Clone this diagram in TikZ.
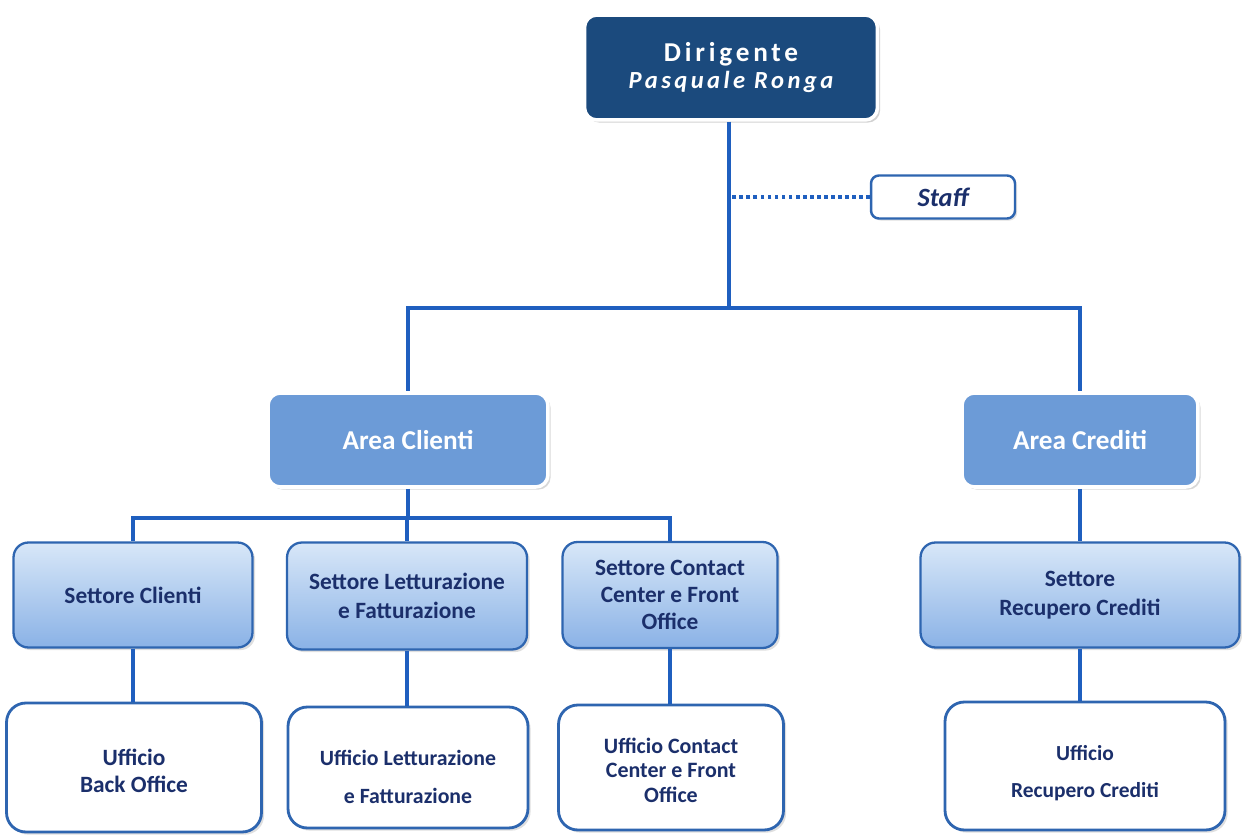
\documentclass[tikz,border=0pt]{standalone}
\usepackage{fontspec}
\setmainfont{Carlito}
\newfontfamily\spacedfont[LetterSpace=14]{Carlito}
\usetikzlibrary{shadows}

\definecolor{navy}{HTML}{1B4A7D}
\definecolor{areablue}{HTML}{6C9BD7}
\definecolor{linkblue}{HTML}{1F5FBF}
\definecolor{edgeblue}{HTML}{2E65B0}
\definecolor{inkblue}{HTML}{1B2F6B}
\definecolor{settop}{HTML}{D8E7F8}
\definecolor{setbot}{HTML}{8AB2E6}

\tikzset{
  basebox/.style={align=center, inner sep=2pt,
    font=\fontsize{13.3}{15.2}\selectfont\bfseries},
  headbox/.style={basebox, fill=navy, draw=white, line width=2pt, text=white,
    rounded corners=7pt,
    drop shadow={opacity=0.35, shadow xshift=1.5pt, shadow yshift=-1.5pt}},
  areabox/.style={basebox, fill=areablue, draw=white, line width=2pt, text=white,
    rounded corners=7pt, font=\fontsize{15.5}{17}\selectfont\bfseries,
    drop shadow={opacity=0.3, shadow xshift=1.5pt, shadow yshift=-1.5pt}},
  sectbox/.style={basebox, top color=settop, bottom color=setbot, draw=edgeblue,
    line width=1.3pt, text=inkblue, rounded corners=8.5pt,
    drop shadow={opacity=0.25, shadow xshift=1.5pt, shadow yshift=-1.5pt}},
  officebox/.style={basebox, fill=white, draw=edgeblue, line width=1.6pt,
    text=inkblue, rounded corners=11pt,
    drop shadow={opacity=0.25, shadow xshift=1.5pt, shadow yshift=-1.5pt}},
  staffbox/.style={basebox, fill=white, draw=edgeblue, line width=1.4pt,
    text=inkblue, rounded corners=4.5pt, font=\fontsize{15}{17}\selectfont\bfseries,
    drop shadow={opacity=0.25, shadow xshift=1.2pt, shadow yshift=-1.2pt}},
  link/.style={draw=linkblue, line width=2.8pt},
  dotlink/.style={draw=linkblue, line width=2.2pt, dash pattern=on 2.2pt off 1.8pt}
}

\begin{document}
\begin{tikzpicture}[x=0.02cm, y=-0.02cm]
  \useasboundingbox (0,0) rectangle (1242,835);
  \fill[white] (0,0) rectangle (1242,835);

  % junction points of the tree
  \coordinate (j1) at (729,308);
  \coordinate (j2) at (408,518);

  % top level
  \node[headbox, minimum width=5.86cm, minimum height=2.1cm] (dir) at (731,67.5)
    {\fontsize{15.5}{15.3}\selectfont\spacedfont\bfseries Dirigente\\
     \fontsize{14}{15.3}\selectfont\spacedfont\bfseries\itshape Pasquale Ronga};

  \node[staffbox, minimum width=2.88cm, minimum height=0.86cm] (staff) at (943,197)
    {\itshape Staff};

  % areas
  \node[areabox, minimum width=5.6cm, minimum height=1.88cm] (acl) at (408,440) {Area Clienti};
  \node[areabox, minimum width=4.72cm, minimum height=1.88cm] (acr) at (1080,440) {Area Crediti};

  % sectors
  \node[sectbox, minimum width=4.78cm, minimum height=2.1cm] (sc) at (133,595) {Settore Clienti};
  \node[sectbox, minimum width=4.8cm, minimum height=2.14cm] (sl) at (407,596)
    {Settore Letturazione\\[1pt]e Fatturazione};
  \node[sectbox, minimum width=4.3cm, minimum height=2.12cm] (scc) at (670,595)
    {Settore Contact\\Center e Front\\Office};
  \node[sectbox, minimum width=6.38cm, minimum height=2.1cm] (sr) at (1080,595)
    {Settore\\[1pt]Recupero Crediti};

  % offices
  \node[officebox, minimum width=5.1cm, minimum height=2.58cm] (ub) at (134,767.5)
    {\rule{0pt}{13pt}Ufficio\\Back Office};
  \node[officebox, minimum width=4.8cm, minimum height=2.42cm,
        font=\fontsize{12.4}{14}\selectfont\bfseries] (ul) at (408,767.5)
    {\rule{0pt}{19pt}Ufficio Letturazione\\[7.5pt]e Fatturazione};
  \node[officebox, minimum width=4.5cm, minimum height=2.5cm,
        font=\fontsize{12.5}{14.2}\selectfont\bfseries] (uc) at (671,767.5)
    {\rule{0pt}{12pt}Ufficio Contact\\Center e Front\\Office};
  \node[officebox, minimum width=5.6cm, minimum height=2.56cm,
        font=\fontsize{12.2}{14}\selectfont\bfseries] (ur) at (1085,766)
    {\rule{0pt}{17pt}Ufficio\\[7pt]Recupero Crediti};

  % tree lines
  \draw[link] (dir.south -| j1) -- (j1);
  \draw[link] (j1) -| (acl.north);
  \draw[link] (j1) -| (acr.north);
  \draw[dotlink] (staff.west) -- (staff.west -| j1);

  \draw[link] (acl.south) -- (j2);
  \draw[link] (j2) -| (sc.north);
  \draw[link] (j2) -| (sl.north);
  \draw[link] (j2) -| (scc.north);
  \draw[link] (acr.south) -- (sr.north);

  \draw[link] (sc.south) -- (sc.south |- ub.north);
  \draw[link] (sl.south) -- (sl.south |- ul.north);
  \draw[link] (scc.south) -- (scc.south |- uc.north);
  \draw[link] (sr.south) -- (sr.south |- ur.north);
\end{tikzpicture}
\end{document}
